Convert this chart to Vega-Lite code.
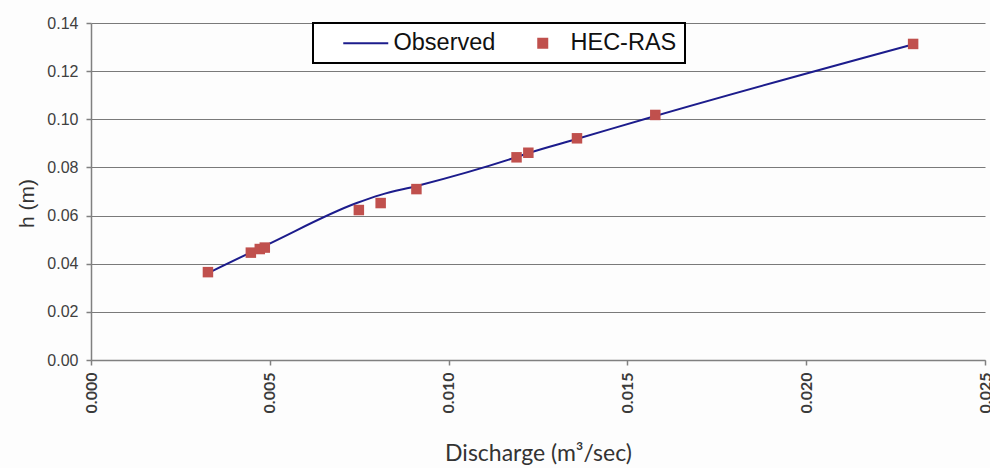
{
  "$schema": "https://vega.github.io/schema/vega-lite/v6.json",
  "width": 894,
  "height": 337,
  "autosize": {"type": "none"},
  "padding": {"left": 91, "top": 23, "right": 5, "bottom": 108},
  "background": "#fdfdfd",
  "config": {
    "view": {"stroke": null},
    "axis": {
      "domainColor": "#808080",
      "domainWidth": 1.5,
      "tickColor": "#808080",
      "tickWidth": 1.5,
      "tickSize": 5,
      "gridColor": "#7a7a7a",
      "gridWidth": 1.2,
      "gridOpacity": 1
    },
    "legend": {
      "orient": "none",
      "legendX": 222,
      "legendY": 0,
      "direction": "horizontal",
      "padding": 8,
      "strokeColor": "#000000",
      "strokeWidth": 2,
      "fillColor": "#ffffff",
      "labelFont": "Liberation Sans",
      "labelFontSize": 23.5,
      "labelColor": "#111111",
      "labelOffset": 16,
      "labelExpr": "datum.label === 'HEC-RAS' ? datum.label + '      ' : datum.label",
      "columnPadding": 35,
      "symbolSize": 81,
      "symbolStrokeWidth": 2,
      "symbolOpacity": 1,
      "titleOrient": "left",
      "titleFont": "Liberation Sans",
      "titleFontSize": 22,
      "titlePadding": 33
    }
  },
  "data": {
    "values": [
      {"series": "Observed", "q": 0.00327, "h": 0.0361},
      {"series": "Observed", "q": 0.00450, "h": 0.0449},
      {"series": "Observed", "q": 0.00486, "h": 0.0474},
      {"series": "Observed", "q": 0.00743, "h": 0.0652},
      {"series": "Observed", "q": 0.00810, "h": 0.0686},
      {"series": "Observed", "q": 0.00911, "h": 0.0723},
      {"series": "Observed", "q": 0.01190, "h": 0.0843},
      {"series": "Observed", "q": 0.01224, "h": 0.0860},
      {"series": "Observed", "q": 0.01358, "h": 0.0918},
      {"series": "Observed", "q": 0.01578, "h": 0.1014},
      {"series": "Observed", "q": 0.02293, "h": 0.1309},
      {"series": "HEC-RAS", "q": 0.00327, "h": 0.0365},
      {"series": "HEC-RAS", "q": 0.00447, "h": 0.0446},
      {"series": "HEC-RAS", "q": 0.00472, "h": 0.0461},
      {"series": "HEC-RAS", "q": 0.00486, "h": 0.0467},
      {"series": "HEC-RAS", "q": 0.00749, "h": 0.0623},
      {"series": "HEC-RAS", "q": 0.00810, "h": 0.0652},
      {"series": "HEC-RAS", "q": 0.00910, "h": 0.0710},
      {"series": "HEC-RAS", "q": 0.01190, "h": 0.0842},
      {"series": "HEC-RAS", "q": 0.01223, "h": 0.0861},
      {"series": "HEC-RAS", "q": 0.01359, "h": 0.0921},
      {"series": "HEC-RAS", "q": 0.01578, "h": 0.1018},
      {"series": "HEC-RAS", "q": 0.02299, "h": 0.1313}
    ]
  },
  "encoding": {
    "x": {
      "field": "q",
      "type": "quantitative",
      "scale": {"domain": [0, 0.025], "nice": false, "zero": false},
      "axis": {
        "title": "Discharge (m³/sec)",
        "titleFont": "Lato",
        "titleFontSize": 23,
        "titleFontWeight": "normal",
        "titleColor": "#333333",
        "titlePadding": 30,
        "values": [0, 0.005, 0.01, 0.015, 0.02, 0.025],
        "format": ".3f",
        "labelAngle": -90,
        "labelFont": "Lato",
        "labelFontSize": 16,
        "labelFontWeight": "bold",
        "labelColor": "#3a3a3a",
        "labelPadding": 7,
        "grid": false
      }
    },
    "y": {
      "field": "h",
      "type": "quantitative",
      "scale": {"domain": [0, 0.14], "nice": false},
      "axis": {
        "title": "h (m)",
        "titleFont": "Liberation Sans",
        "titleFontSize": 21,
        "titleFontWeight": "normal",
        "titleColor": "#333333",
        "titleY": 180,
        "titleX": -54,
        "values": [0, 0.02, 0.04, 0.06, 0.08, 0.1, 0.12, 0.14],
        "format": ".2f",
        "labelFont": "Liberation Sans",
        "labelFontSize": 16,
        "labelColor": "#404040",
        "labelPadding": 8,
        "grid": true
      }
    }
  },
  "layer": [
    {
      "transform": [{"filter": "datum.series === 'Observed'"}],
      "mark": {"type": "line", "color": "#1c1c8c", "strokeWidth": 2, "interpolate": "monotone"}
    },
    {
      "transform": [{"filter": "datum.series === 'HEC-RAS'"}],
      "mark": {"type": "point", "filled": true, "size": 110, "strokeWidth": 0, "opacity": 1},
      "encoding": {
        "color": {
          "field": "series",
          "type": "nominal",
          "scale": {"domain": ["Observed", "HEC-RAS"], "range": ["#1c1c8c", "#c0504d"]},
          "legend": {"title": " "}
        },
        "stroke": {
          "field": "series",
          "type": "nominal",
          "scale": {"domain": ["Observed", "HEC-RAS"], "range": ["#1c1c8c", "#c0504d"]},
          "legend": {"title": " "}
        },
        "shape": {
          "field": "series",
          "type": "nominal",
          "scale": {"domain": ["Observed", "HEC-RAS"], "range": ["M-5,0H5", "square"]},
          "legend": {"title": " "}
        }
      }
    }
  ]
}
